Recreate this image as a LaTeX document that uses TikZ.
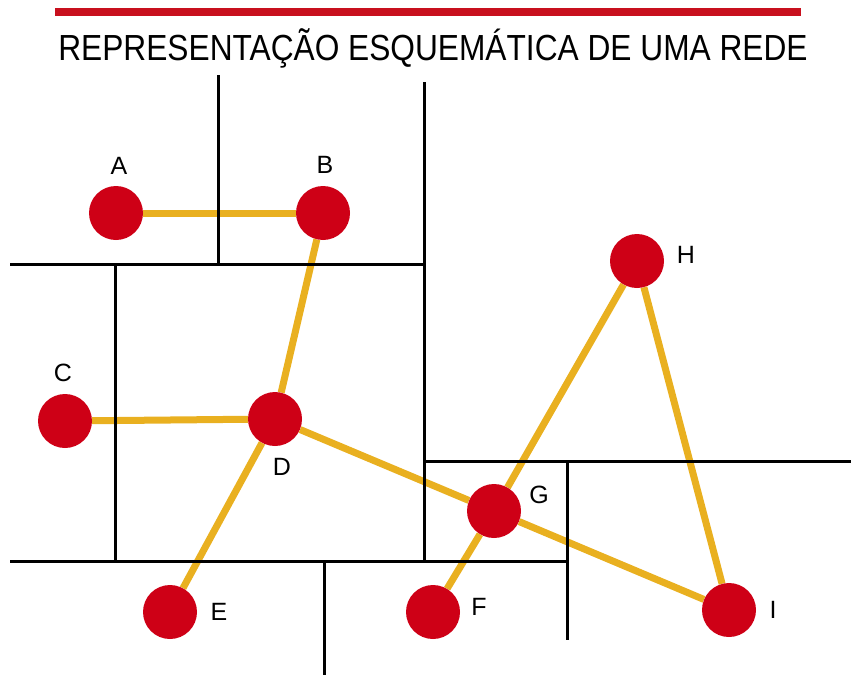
\documentclass[tikz,border=0pt]{standalone}
\usepackage{fontspec}
\setmainfont{Liberation Sans}
\usetikzlibrary{backgrounds}
\definecolor{nodered}{RGB}{206,0,22}
\definecolor{linkorange}{RGB}{233,176,32}
\definecolor{barred}{RGB}{200,16,30}

\begin{document}
\begin{tikzpicture}[x=1pt, y=-1pt,
      station/.style = {circle, fill=nodered, minimum size=54pt, inner sep=0pt},
      tag/.style = {font=\fontsize{25}{25}\selectfont, inner sep=0pt},
      link/.style = {draw=linkorange, line width=7pt},
      wall/.style = {draw=black, line width=3pt}]
  \useasboundingbox (0,0) rectangle (851,677);
  \fill[barred] (55,8) rectangle (801,16);
  \node[font=\fontsize{33}{33}\selectfont, xscale=0.96, yscale=1.1, inner sep=0pt] (title)
    at (433,48) {REPRESENTAÇÃO ESQUEMÁTICA DE UMA REDE};
  % stations
  \node[station] (A) at (116,213) {};
  \node[station] (B) at (323,213) {};
  \node[station] (C) at (65,421) {};
  \node[station] (D) at (275,419) {};
  \node[station] (E) at (170,612) {};
  \node[station] (F) at (433,612) {};
  \node[station] (G) at (494,511) {};
  \node[station] (H) at (637,261) {};
  \node[station] (I) at (729,610) {};
  % names
  \node[tag] (labA) at (119,166) {A};
  \node[tag] (labB) at (325,165) {B};
  \node[tag] (labC) at (63,373) {C};
  \node[tag] (labD) at (282,467) {D};
  \node[tag] (labE) at (219,612) {E};
  \node[tag] (labF) at (479,607) {F};
  \node[tag] (labG) at (539,495) {G};
  \node[tag] (labH) at (686,255) {H};
  \node[tag] (labI) at (773,610) {I};
  \begin{scope}[on background layer]
    \draw[link] (A) -- (B);
    \draw[link] (B) -- (D);
    \draw[link] (C) -- (D);
    \draw[link] (D) -- (E);
    \draw[link] (D) -- (G);
    \draw[link] (G) -- (I);
    \draw[link] (G) -- (F);
    \draw[link] (G) -- (H);
    \draw[link] (H) -- (I);
    % borders between the areas
    \draw[wall] (218,75) -- (218,264);
    \draw[wall] (424,82) -- (424,561);
    \draw[wall] (10,264) -- (424,264);
    \draw[wall] (115,264) -- (115,561);
    \draw[wall] (10,561) -- (568,561);
    \draw[wall] (324,561) -- (324,675);
    \draw[wall] (424,461) -- (851,461);
    \draw[wall] (567,461) -- (567,640);
  \end{scope}
\end{tikzpicture}
\end{document}
